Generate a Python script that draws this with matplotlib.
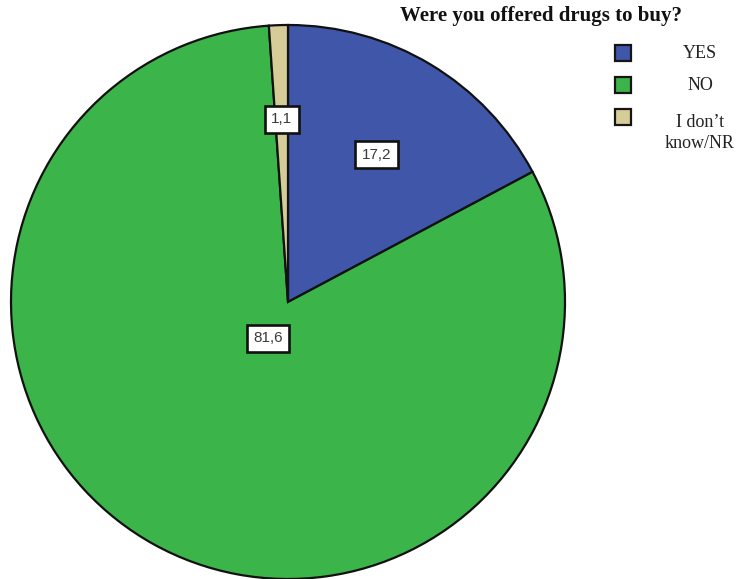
import numpy as np
import matplotlib.pyplot as plt
from matplotlib.patches import Rectangle

# datos
categories = ['YES', 'NO', 'I don\u2019t\nknow/NR']
values = [17.2, 81.6, 1.1]
value_labels = ['17,2', '81,6', '1,1']
colors = ['#3f56a9', '#3bb44a', '#d5cc97']
title = 'Were you offered drugs to buy?'

W, H = 746, 579
fig = plt.figure(figsize=(W / 100, H / 100), dpi=100)
ax = fig.add_axes([0, 0, 1, 1])

# pie en coordenadas de píxel (y hacia arriba)
cx, cy, r = 288, H - 302, 277
wedges, _ = ax.pie(values, colors=colors, startangle=90, counterclock=False,
                   center=(cx, cy), radius=r,
                   wedgeprops=dict(edgecolor='#111111', linewidth=1.6))
ax.set_xlim(0, W)
ax.set_ylim(0, H)
ax.set_aspect('equal')
ax.axis('off')

# etiquetas de valor sobre cada sector
label_frac = [0.62, 0.15, 0.66]
for w, txt, f in zip(wedges, value_labels, label_frac):
    ang = np.deg2rad((w.theta1 + w.theta2) / 2)
    x = cx + f * r * np.cos(ang)
    y = cy + f * r * np.sin(ang)
    ax.text(x, y, txt, ha='center', va='center', fontsize=11,
            family='Liberation Sans', color='#3a3a3a',
            bbox=dict(boxstyle='square,pad=0.42', fc='white', ec='#111111', lw=1.9))

# leyenda dibujada a mano
ax.text(541, H - 16, title, ha='center', va='center', fontsize=15,
        family='Liberation Serif', fontweight='bold', color='#111111')
row_y = [53, 85, 117]
text_y = [53, 85, 133]
for cat, col, ry, ty in zip(categories, colors, row_y, text_y):
    ax.add_patch(Rectangle((615, H - ry - 8), 16, 16, fc=col, ec='#151515', lw=1.6))
    ax.text(700, H - ty, cat, ha='center', va='center', fontsize=13,
            family='Liberation Serif', color='#222222', linespacing=1.3,
            multialignment='center')

fig.savefig('out.png', dpi=100, facecolor='white')
